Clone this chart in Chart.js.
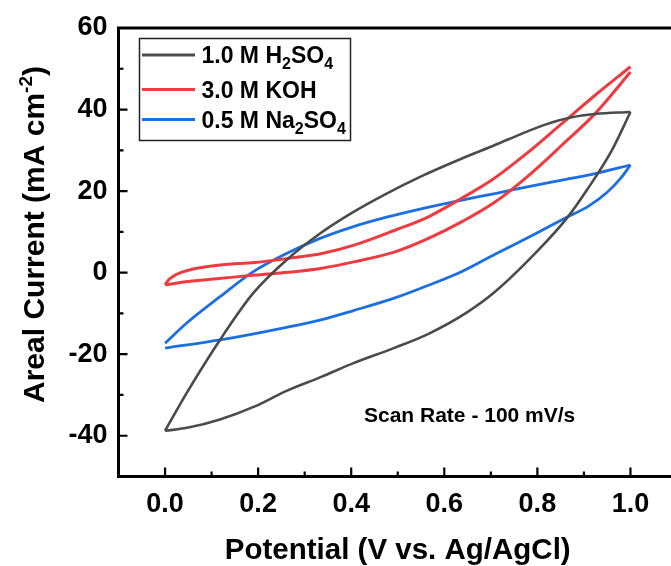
<!DOCTYPE html>
<html>
<head>
<meta charset="utf-8">
<script src="https://cdn.jsdelivr.net/npm/chart.js@4.4.0/dist/chart.umd.min.js"></script>
<style>
html, body { margin: 0; padding: 0; overflow: hidden; background: #fff; }
canvas { display: block; }
</style>
</head>
<body>
<canvas id="cv" width="680" height="566"></canvas>
<script>
// tick labels
const xTicks = [0, 0.2, 0.4, 0.6, 0.8, 1.0];
const yTicks = [-40, -20, 0, 20, 40, 60];

// legend labels, "_" marks a subscript digit
const seriesNames = ["1.0 M H_2SO_4", "3.0 M KOH", "0.5 M Na_2SO_4"];

// 1.0 M H2SO4 : anodic (upper) and cathodic (lower) branch
const h2so4FwdV = [0, 0.046, 0.118, 0.189, 0.261, 0.333, 0.405, 0.476, 0.548, 0.638, 0.709, 0.767, 0.817, 0.874, 0.924, 1.0];
const h2so4FwdI = [-38.8, -29.6, -16.5, -5.1, 3.1, 9.6, 14.9, 19.4, 23.5, 28.0, 31.3, 34.1, 36.3, 38.1, 38.9, 39.4];
const h2so4RevV = [1.0, 0.96, 0.906, 0.863, 0.806, 0.709, 0.648, 0.566, 0.494, 0.405, 0.337, 0.261, 0.193, 0.118, 0.05, 0];
const h2so4RevI = [39.4, 30.0, 20.2, 13.3, 6.0, -4.7, -9.8, -15.0, -18.4, -22.2, -25.5, -29.0, -32.8, -36.0, -38.0, -38.8];

// 3.0 M KOH
const kohFwdV = [0, 0.01, 0.025, 0.05, 0.121, 0.193, 0.265, 0.337, 0.408, 0.494, 0.566, 0.638, 0.702, 0.781, 0.853, 0.924, 1.0];
const kohFwdI = [-3.0, -1.5, -0.4, 0.6, 1.9, 2.5, 3.5, 4.7, 6.8, 10.4, 13.7, 18.3, 22.7, 29.6, 36.6, 43.5, 50.5];
const kohRevV = [1.0, 0.924, 0.853, 0.781, 0.709, 0.638, 0.566, 0.494, 0.408, 0.337, 0.265, 0.193, 0.121, 0.05, 0];
const kohRevI = [49.2, 39.0, 31.3, 23.8, 17.3, 12.5, 8.4, 5.1, 2.7, 1.1, 0.1, -0.6, -1.4, -2.2, -3.0];

// 0.5 M Na2SO4
const na2so4FwdV = [0, 0.046, 0.118, 0.189, 0.261, 0.333, 0.405, 0.476, 0.548, 0.638, 0.709, 0.781, 0.853, 0.924, 1.0];
const na2so4FwdI = [-17.3, -12.4, -5.9, 0.2, 4.7, 8.4, 11.3, 13.6, 15.6, 17.8, 19.4, 21.1, 22.7, 24.3, 26.4];
const na2so4RevV = [1.0, 0.98, 0.95, 0.91, 0.86, 0.8, 0.709, 0.638, 0.566, 0.494, 0.405, 0.337, 0.261, 0.118, 0];
const na2so4RevI = [26.4, 23.3, 19.7, 16.3, 13.4, 9.8, 4.5, 0.3, -3.1, -6.2, -9.3, -11.5, -13.4, -16.5, -18.5];

const colors = ["#4b4b4b", "#ef3b40", "#1b6fe2"];
const widths = [2.6, 3, 2.8];
const FONT = "'Liberation Sans', Arial, sans-serif";

function pts(xs, ys) {
    return xs.map((x, i) => ({ x: x, y: ys[i] }));
}

function branch(xs, ys, k) {
    return {
        data: pts(xs, ys),
        borderColor: colors[k],
        borderWidth: widths[k],
        showLine: true,
        pointRadius: 0,
        cubicInterpolationMode: "monotone",
        fill: false
    };
}

/** draws a string where "_d" is a subscript */
function subText(ctx, str, x, y, size) {
    let parts = str.split(/(_\d)/).filter(s => s.length);
    let cx = x;
    for (let p of parts) {
        let sub = p[0] === "_";
        let t = sub ? p.slice(1) : p;
        ctx.font = "bold " + (sub ? Math.round(size * 0.68) : size) + "px " + FONT;
        ctx.fillText(t, cx, sub ? y + 6 : y);
        cx += ctx.measureText(t).width;
    }
}

const frame = {
    id: "frame",
    afterDraw(chart) {
        const ctx = chart.ctx;
        const a = chart.chartArea;
        const xs = chart.scales.x, ys = chart.scales.y;
        ctx.save();
        ctx.strokeStyle = "#000";
        // top and right border
        ctx.lineWidth = 3;
        ctx.beginPath();
        ctx.moveTo(a.left - 1.5, a.top);
        ctx.lineTo(a.right, a.top);
        ctx.lineTo(a.right, a.bottom);
        ctx.stroke();

        // inward ticks, minor halfway between majors
        ctx.lineWidth = 2.2;
        const xStep = xTicks[1] - xTicks[0];
        const yStep = yTicks[1] - yTicks[0];
        ctx.beginPath();
        xTicks.forEach(v => {
            let p = xs.getPixelForValue(v);
            ctx.moveTo(p, a.bottom); ctx.lineTo(p, a.bottom - 9);
            let m = xs.getPixelForValue(v + xStep / 2);
            if (m < a.right) { ctx.moveTo(m, a.bottom); ctx.lineTo(m, a.bottom - 5); }
        });
        yTicks.forEach(v => {
            let p = ys.getPixelForValue(v);
            ctx.moveTo(a.left, p); ctx.lineTo(a.left + 9, p);
            let m = ys.getPixelForValue(v - yStep / 2);
            if (m < a.bottom - 2) { ctx.moveTo(a.left, m); ctx.lineTo(a.left + 5, m); }
        });
        ctx.stroke();

        // legend
        ctx.lineWidth = 1.5;
        ctx.strokeStyle = "#222";
        ctx.strokeRect(139.5, 38.5, 211, 102);
        const rows = [55, 89.5, 119.5];
        ctx.fillStyle = "#000";
        ctx.textBaseline = "alphabetic";
        ctx.textAlign = "left";
        seriesNames.forEach((name, k) => {
            ctx.strokeStyle = colors[k];
            ctx.lineWidth = 3;
            ctx.beginPath();
            ctx.moveTo(142, rows[k]); ctx.lineTo(195, rows[k]);
            ctx.stroke();
            subText(ctx, name, 201.5, rows[k] + 8, 23);
        });

        // annotation
        ctx.font = "bold 21px " + FONT;
        ctx.fillText("Scan Rate - 100 mV/s", 364, 422);

        // y title with superscript
        ctx.translate(44, 234.5);
        ctx.rotate(-Math.PI / 2);
        const main = "Areal Current (mA cm", sup = "-2", end = ")";
        ctx.font = "bold 30px " + FONT;
        let w1 = ctx.measureText(main).width, w3 = ctx.measureText(end).width;
        ctx.font = "bold 19px " + FONT;
        let w2 = ctx.measureText(sup).width;
        let x0 = -(w1 + w2 + w3) / 2;
        ctx.font = "bold 30px " + FONT;
        ctx.fillText(main, x0, 0);
        ctx.fillText(end, x0 + w1 + w2, 0);
        ctx.font = "bold 19px " + FONT;
        ctx.fillText(sup, x0 + w1, -12);
        ctx.restore();
    }
};

new Chart(document.getElementById("cv"), {
    type: "scatter",
    data: {
        datasets: [
            branch(h2so4FwdV, h2so4FwdI, 0),
            branch(h2so4RevV, h2so4RevI, 0),
            branch(kohFwdV, kohFwdI, 1),
            branch(kohRevV, kohRevI, 1),
            branch(na2so4FwdV, na2so4FwdI, 2),
            branch(na2so4RevV, na2so4RevI, 2)
        ]
    },
    options: {
        responsive: false,
        animation: false,
        layout: { padding: { top: 28, right: 3, left: 0, bottom: 0 } },
        plugins: { legend: { display: false }, tooltip: { enabled: false } },
        scales: {
            x: {
                type: "linear",
                min: -0.1,
                max: 1.1,
                afterBuildTicks: s => { s.ticks = xTicks.map(v => ({ value: v })); },
                afterFit: s => { s.height = 89.5; },
                grid: { display: false, drawTicks: false },
                border: { display: true, color: "#000", width: 3 },
                ticks: {
                    color: "#000",
                    padding: 12,
                    maxRotation: 0,
                    font: { family: FONT, size: 27, weight: "bold" },
                    callback: v => v.toFixed(1)
                },
                title: {
                    display: true,
                    text: "Potential (V vs. Ag/AgCl)",
                    color: "#000",
                    padding: { top: 0, bottom: -3 },
                    font: { family: FONT, size: 29.5, weight: "bold" }
                }
            },
            y: {
                type: "linear",
                min: -50,
                max: 60,
                afterBuildTicks: s => { s.ticks = yTicks.map(v => ({ value: v })); },
                afterFit: s => { s.width = 118.5; },
                grid: { display: false, drawTicks: false },
                border: { display: true, color: "#000", width: 3 },
                ticks: {
                    color: "#000",
                    padding: 11,
                    font: { family: FONT, size: 27, weight: "bold" },
                    callback: v => String(v)
                }
            }
        }
    },
    plugins: [frame]
});
</script>
</body>
</html>
